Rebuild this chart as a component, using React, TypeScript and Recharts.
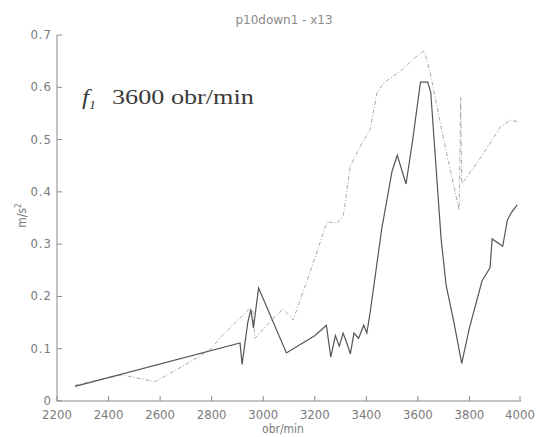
import { LineChart, Line, XAxis, YAxis } from 'recharts'

// solid trace (dark)
const solidRpm = [2270, 2910, 2918, 2940, 2952, 2962, 2982, 3090, 3150, 3200, 3245, 3262, 3280, 3295, 3310, 3325, 3338, 3352, 3370, 3390, 3402, 3415, 3460, 3500, 3520, 3554, 3580, 3610, 3638, 3650, 3670, 3690, 3710, 3740, 3770, 3800, 3849, 3874, 3880, 3888, 3929, 3947, 3962, 3985]
const solidAcc = [0.028, 0.111, 0.07, 0.15, 0.175, 0.14, 0.216, 0.092, 0.11, 0.125, 0.145, 0.084, 0.125, 0.105, 0.13, 0.11, 0.09, 0.13, 0.12, 0.145, 0.13, 0.17, 0.33, 0.44, 0.47, 0.415, 0.5, 0.61, 0.61, 0.59, 0.45, 0.31, 0.22, 0.15, 0.072, 0.14, 0.23, 0.25, 0.255, 0.31, 0.296, 0.346, 0.36, 0.375]

// dashed trace (light)
const dashRpm = [2270, 2450, 2580, 2700, 2800, 2830, 2950, 2960, 2968, 3050, 3078, 3116, 3170, 3248, 3287, 3311, 3338, 3380, 3415, 3441, 3467, 3530, 3597, 3625, 3648, 3700, 3760, 3766, 3770, 3850, 3920, 3959, 3990]
const dashAcc = [0.03, 0.05, 0.037, 0.07, 0.1, 0.12, 0.178, 0.17, 0.12, 0.164, 0.176, 0.155, 0.23, 0.343, 0.34, 0.355, 0.45, 0.49, 0.52, 0.589, 0.608, 0.63, 0.66, 0.67, 0.627, 0.5, 0.365, 0.58, 0.415, 0.47, 0.524, 0.537, 0.534]

const xTicks = [2200, 2400, 2600, 2800, 3000, 3200, 3400, 3600, 3800, 4000]
const yTicks = [0, 0.1, 0.2, 0.3, 0.4, 0.5, 0.6, 0.7]

const solid = solidRpm.map((x, i) => ({ x, y: solidAcc[i] }))
const dashed = dashRpm.map((x, i) => ({ x, y: dashAcc[i] }))

const axisCol = '#8a8a8a'
const tickFont = '"DejaVu Sans Condensed", "Liberation Sans", sans-serif'
const serif = '"Liberation Serif", serif'

function XTick({ x, y, payload }: any) {
  return (
    <g>
      <line x1={x} y1={y} x2={x} y2={y - 5} stroke={axisCol} />
      <text x={x} y={y + 18} textAnchor="middle" fontSize={13} fill="#7a7a7a" fontFamily={tickFont}>
        {payload.value}
      </text>
    </g>
  )
}

function YTick({ x, y, payload }: any) {
  return (
    <g>
      <line x1={x} y1={y} x2={x + 5} y2={y} stroke={axisCol} />
      <text x={x - 5} y={y + 4} textAnchor="end" fontSize={13} letterSpacing={1} fill="#7a7a7a" fontFamily={tickFont}>
        {payload.value === 0 ? '0' : payload.value.toFixed(1)}
      </text>
    </g>
  )
}

export default function App() {
  return (
    <div style={{ position: 'absolute', left: 0, top: 0, width: 536, height: 437, background: '#fff', overflow: 'hidden' }}>
      <LineChart width={536} height={437} margin={{ top: 35, right: 15, left: 0, bottom: 0 }}>
        <XAxis
          type="number"
          dataKey="x"
          domain={[2200, 4000]}
          ticks={xTicks}
          height={36}
          tickSize={0}
          tickMargin={0}
          tickLine={false}
          tick={<XTick />}
          stroke={axisCol}
        />
        <YAxis
          type="number"
          dataKey="y"
          domain={[0, 0.7]}
          ticks={yTicks}
          width={57}
          tickSize={0}
          tickMargin={0}
          tickLine={false}
          tick={<YTick />}
          stroke={axisCol}
        />
        <Line data={dashed} dataKey="y" stroke="#a8a8a8" strokeWidth={1} strokeDasharray="4 2 1 2" dot={false} isAnimationActive={false} />
        <Line data={solid} dataKey="y" stroke="#555" strokeWidth={1.2} dot={false} isAnimationActive={false} />
      </LineChart>
      <div style={{ position: 'absolute', left: 184, width: 200, top: 13, textAlign: 'center', fontFamily: '"DejaVu Sans", sans-serif', fontSize: 12, color: '#8a8a8a' }}>
        p10down1 - x13
      </div>
      <div style={{ position: 'absolute', left: 82, top: 84, fontFamily: serif, fontSize: 22, color: '#3a3a3a', whiteSpace: 'nowrap', transform: 'scaleX(1.15)', transformOrigin: 'left' }}>
        <i>f</i><sub style={{ fontSize: 12 }}><i>1</i></sub>
      </div>
      <div style={{ position: 'absolute', left: 112, top: 84, fontFamily: serif, fontSize: 22, color: '#3a3a3a', whiteSpace: 'nowrap', transform: 'scaleX(1.19)', transformOrigin: 'left' }}>
        3600 obr/min
      </div>
      <div style={{ position: 'absolute', left: 233, width: 100, top: 422, textAlign: 'center', fontFamily: tickFont, fontSize: 12, color: '#7a7a7a' }}>
        obr/min
      </div>
      <div style={{ position: 'absolute', left: 1, top: 208, width: 40, textAlign: 'center', transform: 'rotate(-90deg)', fontFamily: tickFont, fontSize: 12, color: '#7a7a7a' }}>
        m/s<sup style={{ fontSize: 8 }}>2</sup>
      </div>
    </div>
  )
}
